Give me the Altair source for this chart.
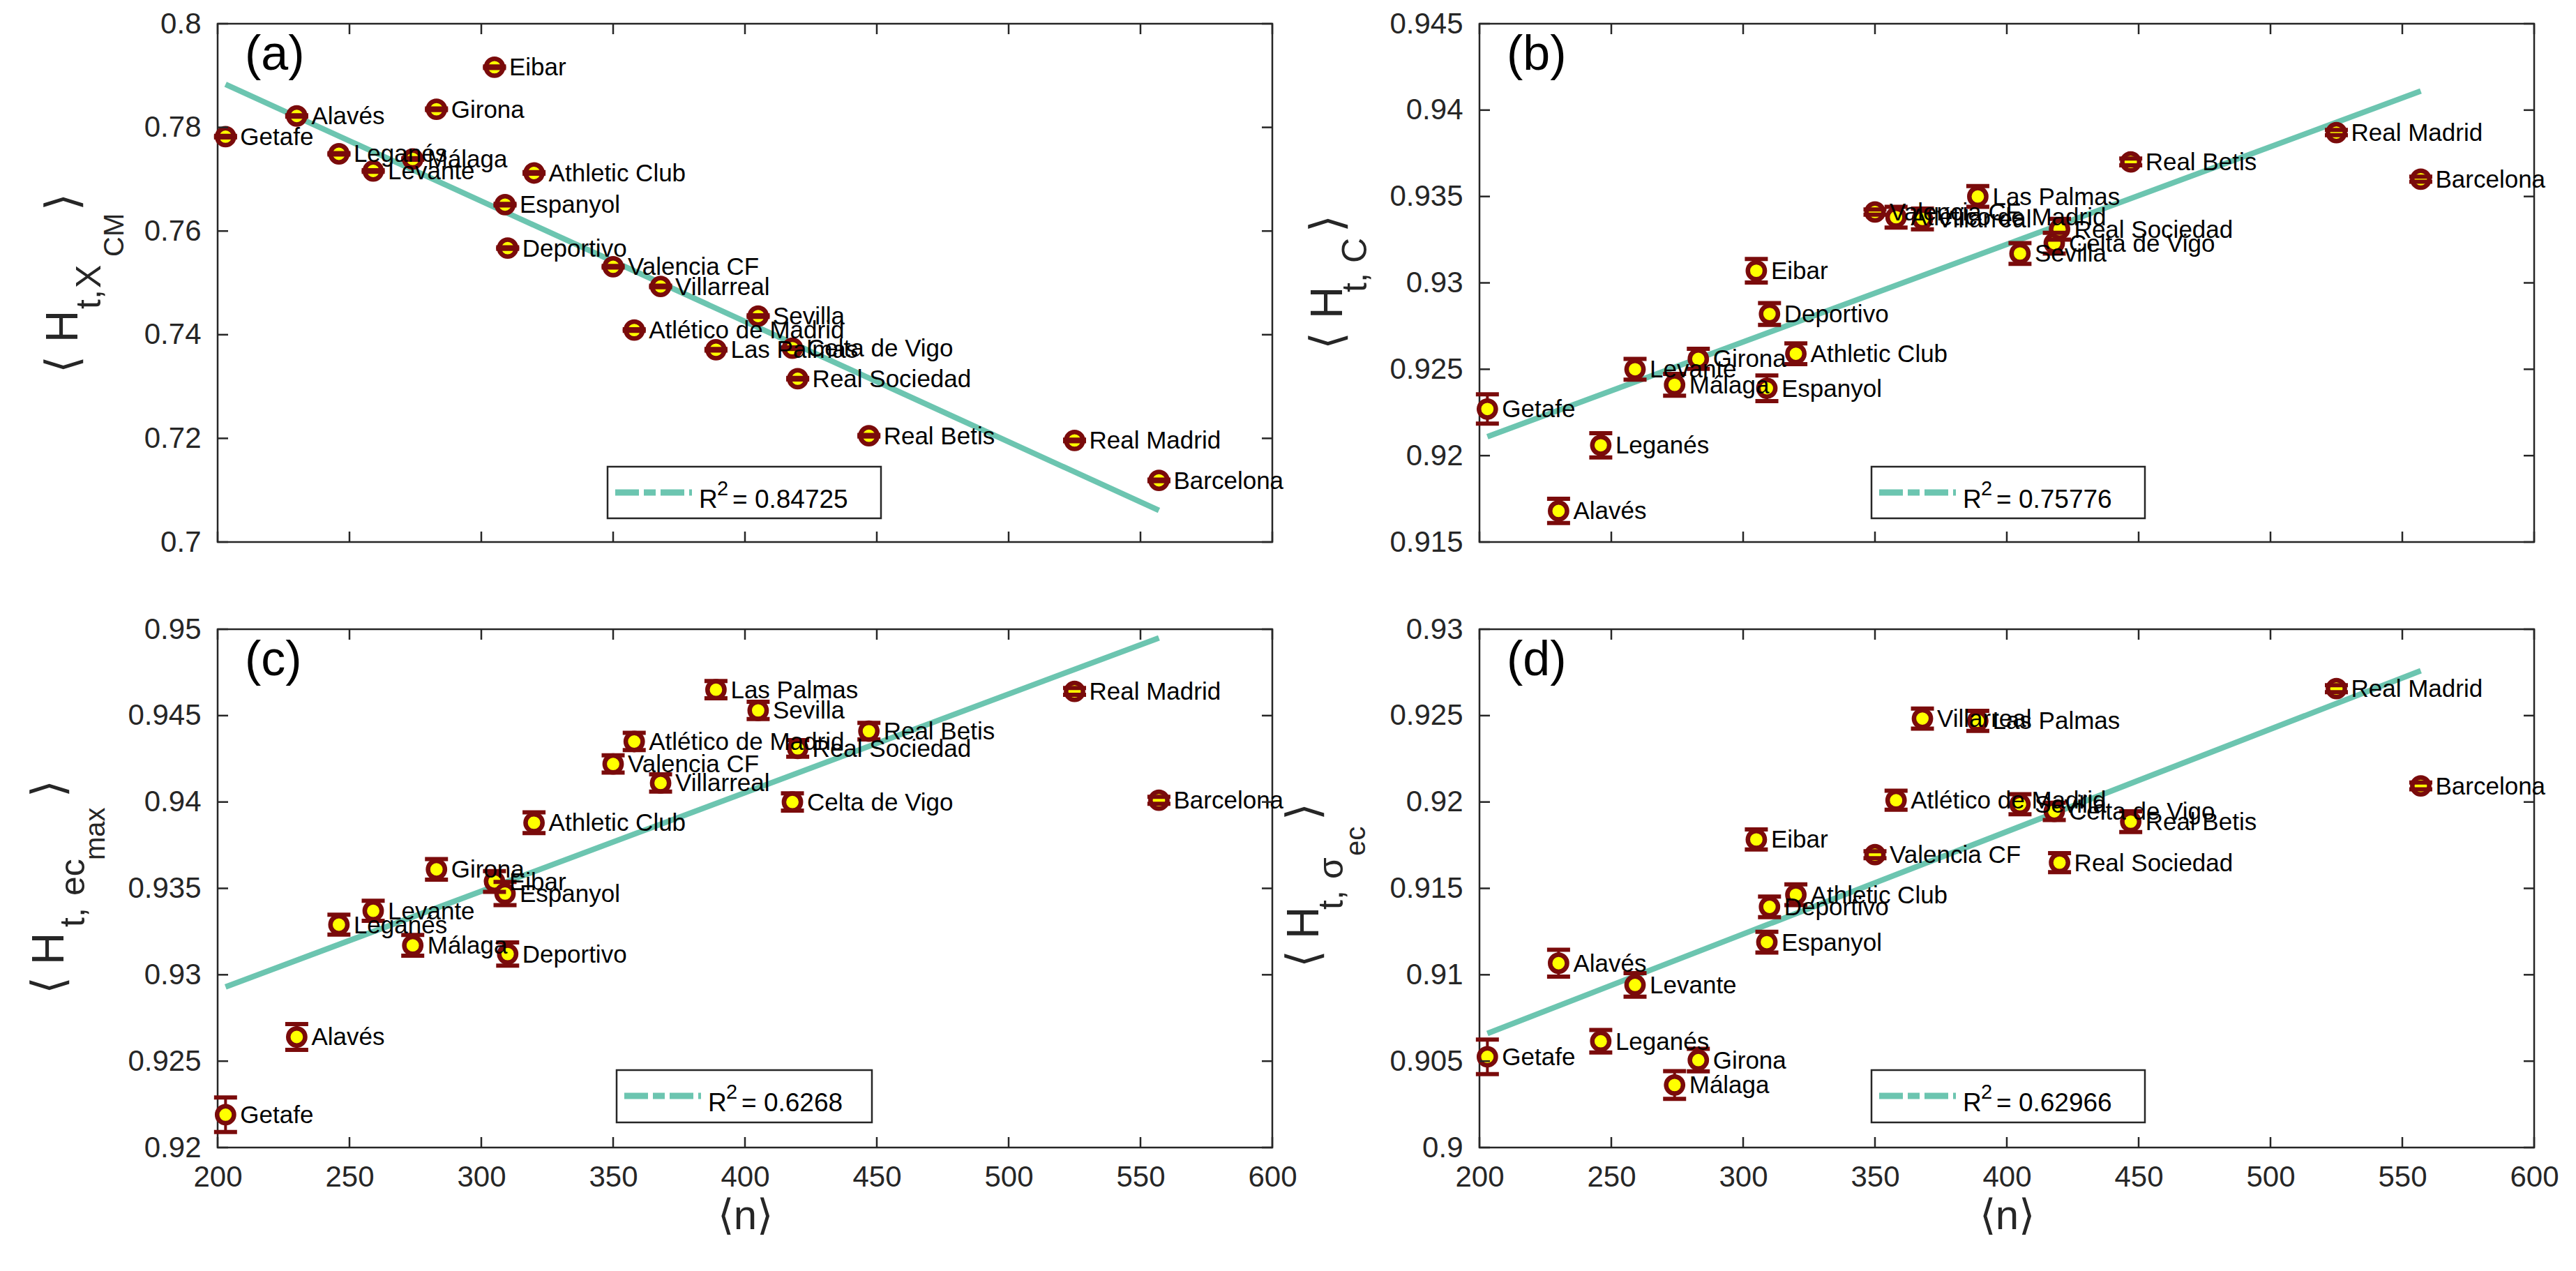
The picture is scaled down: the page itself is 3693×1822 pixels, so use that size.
import altair as alt
import pandas as pd

# ---------------- data ----------------
teams = ["Getafe", "Alavés", "Leganés", "Levante", "Málaga", "Girona", "Eibar",
         "Espanyol", "Deportivo", "Athletic Club", "Valencia CF", "Atlético de Madrid",
         "Villarreal", "Las Palmas", "Sevilla", "Celta de Vigo", "Real Sociedad",
         "Real Betis", "Real Madrid", "Barcelona"]
n_mean = [203, 230, 246, 259, 274, 283, 305, 309, 310, 320, 350, 358, 368, 389, 405,
          418, 420, 447, 525, 557]

a_vals = [0.7782, 0.7822, 0.7749, 0.7716, 0.7739, 0.7835, 0.7916, 0.7651, 0.7567, 0.7712,
          0.7531, 0.7409, 0.7493, 0.7371, 0.7436, 0.7374, 0.7315, 0.7205, 0.7196, 0.7119]
a_errs = [0.00015, 0.00015, 0.00015, 0.00015, 0.00015, 0.00015, 0.00015, 0.00015, 0.00015, 0.00015,
          0.00015, 0.00015, 0.00015, 0.00015, 0.00015, 0.00015, 0.00015, 0.00015, 0.00015, 0.00015]

b_vals = [0.9227, 0.9168, 0.9206, 0.9250, 0.9241, 0.9256, 0.9307, 0.9239, 0.9282, 0.9259,
          0.9341, 0.9338, 0.9337, 0.9350, 0.9317, 0.9323, 0.9331, 0.9370, 0.9387, 0.9360]
b_errs = [0.00085, 0.0007, 0.0007, 0.0006, 0.00063, 0.00058, 0.00068, 0.00074, 0.00063, 0.0006,
          0.00015, 0.0006, 0.0006, 0.0006, 0.0006, 0.0006, 0.0006, 0.0002, 0.00015, 0.00015]

c_vals = [0.9219, 0.9264, 0.9329, 0.9337, 0.9317, 0.9361, 0.9354, 0.9347, 0.9312, 0.9388,
          0.9422, 0.9435, 0.9411, 0.9465, 0.9453, 0.9400, 0.9431, 0.9441, 0.9464, 0.9401]
c_errs = [0.001, 0.00075, 0.00058, 0.00058, 0.0006, 0.0006, 0.0006, 0.00067, 0.00067, 0.0006,
          0.0005, 0.0005, 0.0005, 0.0005, 0.0005, 0.0005, 0.00048, 0.00048, 0.0002, 0.0002]

d_vals = [0.90525, 0.91067, 0.90615, 0.90941, 0.90362, 0.90506, 0.91783, 0.91189, 0.91393, 0.91463,
          0.91695, 0.9201, 0.92483, 0.9247, 0.91987, 0.91946, 0.91649, 0.91886, 0.92656, 0.92093]
d_errs = [0.001, 0.00078, 0.00065, 0.00068, 0.0008, 0.00065, 0.00058, 0.0006, 0.0006, 0.0006,
          0.0002, 0.00055, 0.00058, 0.00058, 0.00058, 0.0005, 0.00055, 0.0006, 0.0002, 0.0002]

# fitted lines (end points)
fit_x = [203, 557]
a_fit = [0.7883, 0.7061]
b_fit = [0.9211, 0.9411]
c_fit = [0.9293, 0.9495]
d_fit = [0.9066, 0.9276]
r2_labels = ["0.84725", "0.75776", "0.6268", "0.62966"]

x_ticks = [200, 250, 300, 350, 400, 450, 500, 550, 600]
a_ticks = [0.7, 0.72, 0.74, 0.76, 0.78, 0.8]
b_ticks = [0.915, 0.92, 0.925, 0.93, 0.935, 0.94, 0.945]
c_ticks = [0.92, 0.925, 0.93, 0.935, 0.94, 0.945, 0.95]
d_ticks = [0.9, 0.905, 0.91, 0.915, 0.92, 0.925, 0.93]

# ---------------- styling ----------------
W, H = 1512, 743
TEAL = "#6cc5b0"
MAROON = "#7a0b0b"
YELLOW = "#ffff00"
AX = "#262626"
FONT = "Liberation Sans, Arial, Helvetica, sans-serif"
NARROW = "Liberation Sans Narrow, Liberation Sans, Arial, sans-serif"
BRK = "DejaVu Sans, sans-serif"
ONE = alt.Data(values=[{"k": 1}])


def txt(text, x, y, size, font=FONT, angle=0, baseline="alphabetic", color="black", align="left"):
    kw = dict(text=text, fontSize=size, font=font, baseline=baseline, color=color, align=align)
    if angle:
        kw["angle"] = angle
    return alt.Chart(ONE).mark_text(**kw).encode(x=alt.value(x), y=alt.value(y))


def make_panel(vals, errs, fit_y, r2, ydom, yticks, yfmt, letter, pieces, bottom_row, box):
    df = pd.DataFrame({
        "team": teams, "n": n_mean, "v": vals,
        "lo": [v - e for v, e in zip(vals, errs)],
        "hi": [v + e for v, e in zip(vals, errs)],
    })
    fit_df = pd.DataFrame({"n": fit_x, "v": fit_y})
    xs = alt.Scale(domain=[200, 600], nice=False, zero=False)
    ys = alt.Scale(domain=ydom, nice=False, zero=False)
    xaxis = alt.Axis(values=x_ticks, labels=bottom_row, title="⟨n⟩" if bottom_row else "",
                     titleFontSize=60, titleFont=FONT, titleColor=AX, titleFontWeight="normal",
                     titlePadding=6, labelPadding=22, format="d", labelFlush=False)
    yaxis = alt.Axis(values=yticks, title="", format=yfmt, labelPadding=24, labelFlush=False)

    def X(f):
        return alt.X(f, type="quantitative", scale=xs, axis=xaxis)

    def Y(f):
        return alt.Y(f, type="quantitative", scale=ys, axis=yaxis)

    layers = []
    layers.append(alt.Chart(fit_df).mark_line(color=TEAL, strokeWidth=8, strokeCap="butt")
                  .encode(x=X("n"), y=Y("v")))
    layers.append(alt.Chart(df).mark_rule(color=MAROON, strokeWidth=4)
                  .encode(x=X("n"), y=Y("lo"), y2="hi"))
    layers.append(alt.Chart(df).mark_circle(size=590, color=YELLOW, opacity=1, stroke=MAROON,
                                            strokeWidth=6.5).encode(x=X("n"), y=Y("v")))
    for f in ["lo", "hi"]:
        layers.append(alt.Chart(df).mark_tick(orient="horizontal", size=33, thickness=6,
                                              color=MAROON, opacity=1)
                      .encode(x=X("n"), y=Y(f)))
    layers.append(alt.Chart(df).mark_text(align="left", baseline="middle", dx=21, dy=1,
                                          fontSize=35, font=FONT, color="black")
                  .encode(x=X("n"), y=Y("v"), text="team:N"))
    # inward ticks on all four sides
    xt = pd.DataFrame({"n": x_ticks})
    yt = pd.DataFrame({"v": yticks})
    layers.append(alt.Chart(xt).mark_rule(color=AX, strokeWidth=2.5)
                  .encode(x=X("n"), y=alt.value(H), y2=alt.value(H - 15)))
    layers.append(alt.Chart(xt).mark_rule(color=AX, strokeWidth=2.5)
                  .encode(x=X("n"), y=alt.value(0), y2=alt.value(15)))
    layers.append(alt.Chart(yt).mark_rule(color=AX, strokeWidth=2.5)
                  .encode(y=Y("v"), x=alt.value(0), x2=alt.value(15)))
    layers.append(alt.Chart(yt).mark_rule(color=AX, strokeWidth=2.5)
                  .encode(y=Y("v"), x=alt.value(W - 15), x2=alt.value(W)))
    # panel letter
    layers.append(txt(letter, 39, 66, 70))
    # legend box
    lx, ly, lw, lh = box
    layers.append(alt.Chart(ONE).mark_rect(fill="white", stroke=AX, strokeWidth=2.5)
                  .encode(x=alt.value(lx), x2=alt.value(lx + lw), y=alt.value(ly), y2=alt.value(ly + lh)))
    layers.append(alt.Chart(ONE).mark_rule(color=TEAL, strokeWidth=9, strokeDash=[34, 7, 17, 7],
                                           strokeCap="butt")
                  .encode(x=alt.value(lx + 11), x2=alt.value(lx + 121), y=alt.value(ly + 37)))
    layers.append(txt("R", lx + 131, ly + 59, 37))
    layers.append(txt("2", lx + 157, ly + 41, 29))
    layers.append(txt("= " + r2, lx + 179, ly + 59, 37))
    # y axis title made of pieces (rotated)
    for t, size, font, x, y in pieces:
        layers.append(txt(t, x, y, size, font=font, angle=270, color=AX))
    return alt.layer(*layers).properties(width=W, height=H)


pa = make_panel(a_vals, a_errs, a_fit, r2_labels[0], [0.7, 0.8], a_ticks, ".2~f", "(a)", [
    ("⟨", 64, BRK, -201, 501), ("H", 64, NARROW, -201, 457), ("t,", 50, NARROW, -168, 409),
    ("X", 50, NARROW, -168, 379), ("CM", 40, NARROW, -135, 334), ("⟩", 64, BRK, -201, 268)],
    False, (559, 635, 392, 74))
pb = make_panel(b_vals, b_errs, b_fit, r2_labels[1], [0.915, 0.945], b_ticks, ".3~f", "(b)", [
    ("⟨", 64, BRK, -197, 467), ("H", 64, NARROW, -197, 423), ("t,", 50, NARROW, -162, 385),
    ("C", 50, NARROW, -162, 343), ("⟩", 64, BRK, -197, 299)],
    False, (562, 635, 392, 74))
pc = make_panel(c_vals, c_errs, c_fit, r2_labels[2], [0.92, 0.95], c_ticks, ".3~f", "(c)", [
    ("⟨", 64, BRK, -221, 523), ("H", 64, NARROW, -221, 481), ("t,", 50, NARROW, -191, 427),
    ("ec", 50, NARROW, -191, 382), ("max", 40, NARROW, -162, 331), ("⟩", 64, BRK, -221, 241)],
    True, (572, 632, 366, 75))
pd_ = make_panel(d_vals, d_errs, d_fit, r2_labels[3], [0.9, 0.93], d_ticks, ".3~f", "(d)", [
    ("⟨", 64, BRK, -231, 485), ("H", 64, NARROW, -231, 444), ("t,", 50, NARROW, -196, 402),
    ("σ", 50, NARROW, -196, 358), ("ec", 40, NARROW, -164, 325), ("⟩", 64, BRK, -231, 274)],
    True, (562, 632, 392, 75))

chart = (alt.concat(pa, pb, pc, pd_, columns=2, spacing={"row": 125, "column": 297},
                    bounds="flush")
         .properties(padding={"left": 30, "top": 3, "right": 5, "bottom": 5}, background="white")
         .configure_view(stroke=AX, strokeWidth=2.5)
         .configure_axis(domain=False, ticks=False, grid=False, labelFont=FONT, labelFontSize=42,
                         labelColor=AX, labelFlush=False))

chart.save("out.html", embed_options={"renderer": "svg", "actions": False})
